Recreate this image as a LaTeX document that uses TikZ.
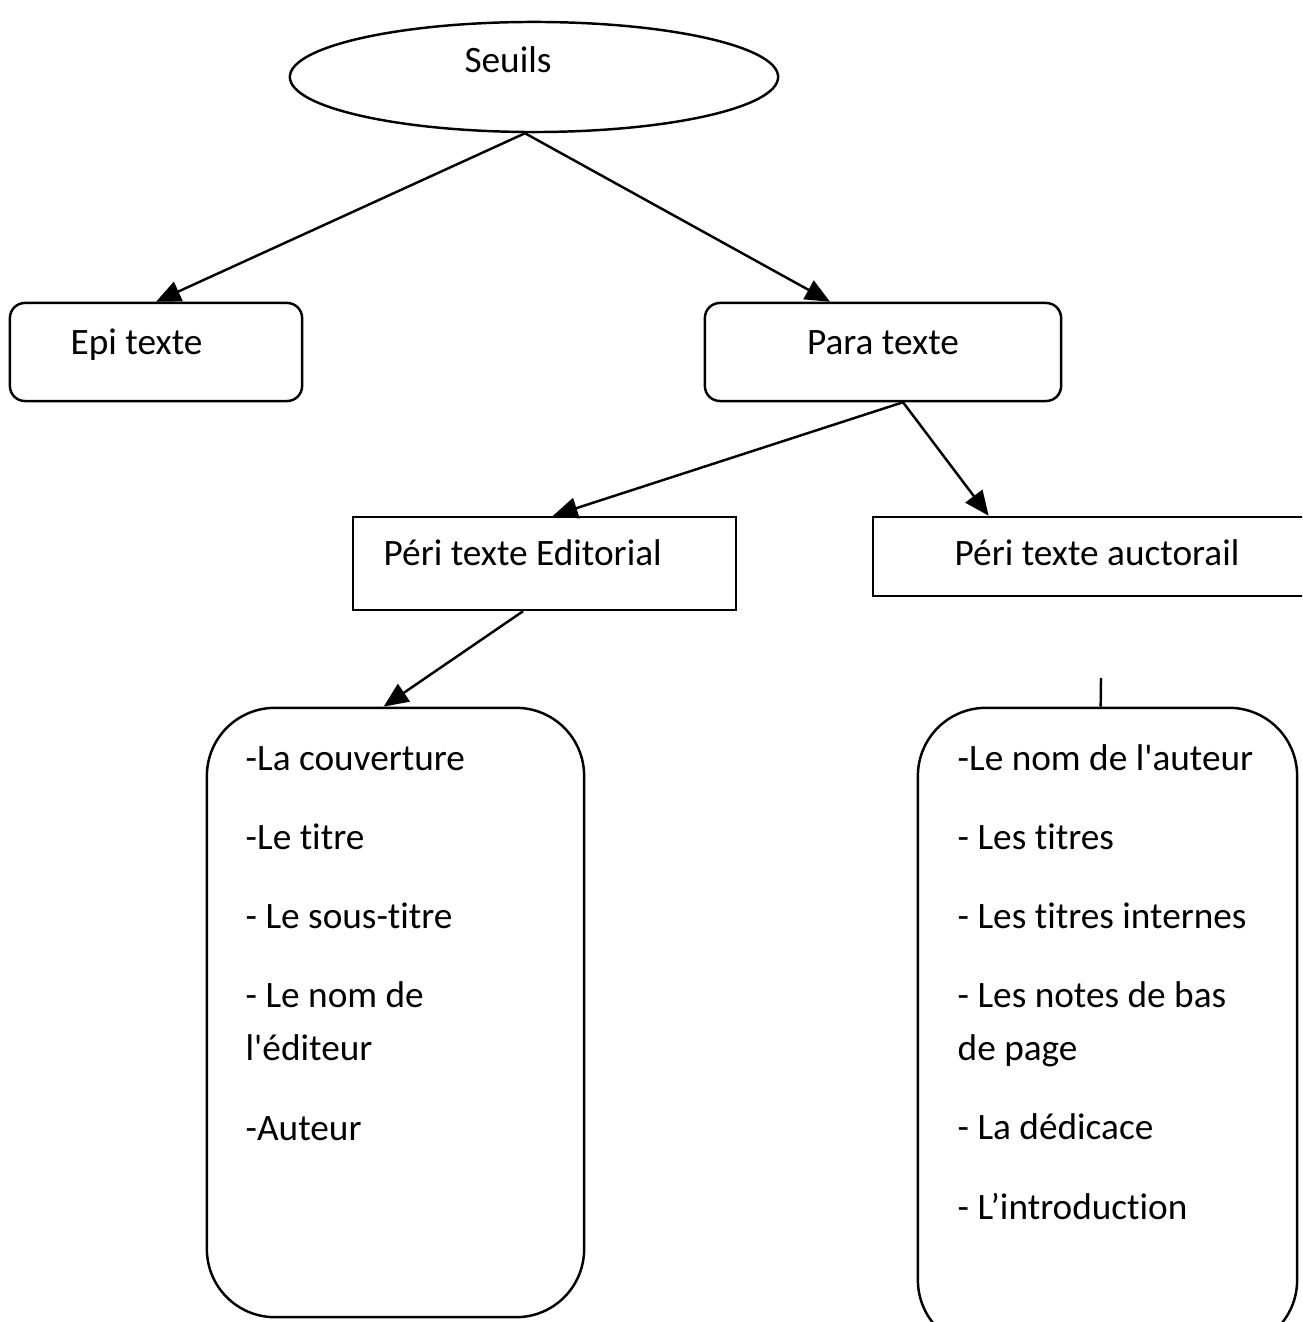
\documentclass[tikz,border=0pt]{standalone}
\usepackage{fontspec}
\newfontfamily\calib{Carlito}[Ligatures=NoCommon]
\usetikzlibrary{shapes.geometric,calc,arrows.meta}
\begin{document}
\begin{tikzpicture}[x=0.01cm,y=-0.01cm,
  every node/.style={font=\calib\fontsize{10.6}{15.1}\selectfont},
  conn/.style={line width=0.7pt,-{Triangle[length=7pt,width=6pt]}},
  plain/.style={line width=0.7pt},
  smallbox/.style={draw,line width=0.7pt,rounded corners=0.15cm,inner sep=0pt,minimum height=0.98cm},
  sqbox/.style={draw,line width=0.7pt,inner sep=0pt},
  bigbox/.style={draw,line width=0.7pt,rounded corners=0.68cm,inner sep=0pt},
  lbl/.style={inner sep=0pt,anchor=base west},
  lst/.style={inner sep=0pt,anchor=base west,align=left}]
\useasboundingbox (0,0) rectangle (1302,1322);
\clip (0,0) rectangle (1302,1322);
% Seuils
\node[ellipse,draw,line width=0.7pt,minimum width=4.88cm,minimum height=1.10cm,inner sep=0pt] (seuils) at (534,77) {};
\node[inner sep=0pt,anchor=base] (seuilst) at (508,73) {Seuils};
% level 2
\node[smallbox,minimum width=2.92cm] (epi) at (156,352) {};
\node[lbl] (epit) at (70,355) {Epi texte};
\node[smallbox,minimum width=3.56cm] (para) at (883,352) {};
\node[inner sep=0pt,anchor=base] (parat) at (883,355) {Para texte};
% level 3
\node[sqbox,minimum width=3.83cm,minimum height=0.93cm] (edit) at (544.5,563.5) {};
\node[lbl] (editt) at (383,565) {Péri texte Editorial};
\node[sqbox,minimum width=4.60cm,minimum height=0.79cm] (auct) at (1103,556.5) {};
\node[inner sep=0pt,anchor=base] (auctt) at (1097,565) {Péri texte auctorail};
% level 4
\node[bigbox,minimum width=3.77cm,minimum height=6.09cm] (left) at (395.5,1012.5) {};
\node[lst] (leftt) at (245,1140) {-La couverture\\[7.4pt]-Le titre\\[7.4pt]- Le sous-titre\\[7.4pt]- Le nom de\\l'éditeur\\[7.4pt]-Auteur};
\node[bigbox,minimum width=3.79cm,minimum height=6.40cm] (right) at (1107.5,1028) {};
\node[lst] (rightt) at (957,1219) {-Le nom de l'auteur\\[7.4pt]- Les titres\\[7.4pt]- Les titres internes\\[7.4pt]- Les notes de bas\\de page\\[7.4pt]- La dédicace\\[7.4pt]- L’introduction};
\coordinate (stub) at (1101,678);
% connectors
\draw[conn] ($(seuils.south)+(-9,0)$) -- (epi.north);
\draw[conn] ($(seuils.south)+(-9,0)$) -- ($(para.north)+(-53,0)$);
\draw[conn] ($(para.south)+(20,0)$) -- ($(edit.north)+(8.5,0)$);
\draw[conn] ($(para.south)+(20,0)$) -- ($(auct.north west)+(117,0)$);
\draw[conn] ($(edit.south)+(-21.5,0)$) -- ($(left.north west)+(178,0)$);
\draw[plain] (stub) -- ($(right.north west)+(184,0)$);
\end{tikzpicture}
\end{document}
